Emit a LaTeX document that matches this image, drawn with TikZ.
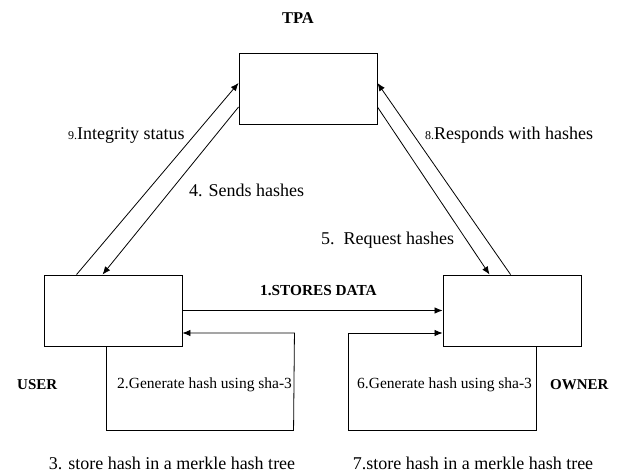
\documentclass[tikz,border=0pt]{standalone}
\usepackage{fontspec}
\setmainfont{Liberation Serif}
\usetikzlibrary{arrows.meta,calc}
\tikzset{
  box/.style={draw, line width=0.9pt, minimum width=138pt, minimum height=71pt, inner sep=0pt},
  conn/.style={line width=0.8pt},
  arr/.style={conn, -{Latex[length=8pt,width=6.5pt]}},
  lbl/.style={font=\fontsize{18}{20}\selectfont, inner sep=0pt, anchor=west},
  smlbl/.style={font=\fontsize{15.5}{18}\selectfont, inner sep=0pt, anchor=west},
  hdr/.style={font=\fontsize{15}{18}\selectfont\bfseries, inner sep=0pt, anchor=west},
}
\begin{document}
\begin{tikzpicture}[x=1pt, y=-1pt]
\useasboundingbox (0,0) rectangle (618,473);
% boxes
\node[box] (tpa) at (308,89) {};
\node[box] (user) at (113,310.5) {};
\node[box] (owner) at (512,310.5) {};
% titles
\node[hdr, anchor=center, font=\fontsize{16.5}{18}\selectfont\bfseries] (tpalbl) at (298,18) {TPA};
\node[hdr] (userlbl) at (17,385) {USER};
\node[hdr] (ownerlbl) at (550,385) {OWNER};
% coordinates on box sides
\coordinate (u9) at ($(user.north west)+(33,0)$);
\coordinate (u4) at ($(user.north west)+(59,0)$);
\coordinate (t9) at ($(tpa.west)+(0,-6)$);
\coordinate (t4) at ($(tpa.west)+(0,18)$);
\coordinate (t8) at ($(tpa.east)+(0,-6)$);
\coordinate (t5) at ($(tpa.east)+(0,18)$);
\coordinate (o5) at ($(owner.north west)+(47,0)$);
\coordinate (o8) at ($(owner.north west)+(68,0)$);
% triangle connectors
\draw[arr] (u9) -- (t9);
\draw[arr] (t4) -- (u4);
\draw[arr] (t5) -- (o5);
\draw[arr] (o8) -- (t8);
\draw[arr] (user.east) -- (owner.west);
% self loops
\coordinate (ul0) at ($(user.south west)+(63,0)$);
\coordinate (ul1) at ($(ul0)+(0,84)$);
\coordinate (ul2) at ($(ul1)+(187,0)$);
\coordinate (ul3) at ($(user.east)+(112,22.5)$);
\coordinate (ul4) at ($(user.east)+(0,22.5)$);
\draw[arr] (ul0) -- (ul1) -- (ul2) -- (ul3) -- (ul4);
\coordinate (ol0) at ($(owner.south west)+(94,0)$);
\coordinate (ol1) at ($(ol0)+(0,84)$);
\coordinate (ol2) at ($(ol1)+(-188,0)$);
\coordinate (ol3) at ($(owner.west)+(-94,22.5)$);
\coordinate (ol4) at ($(owner.west)+(0,22.5)$);
\draw[arr] (ol0) -- (ol1) -- (ol2) -- (ol3) -- (ol4);
% labels
\node[lbl] (l9) at (68,135) {{\fontsize{12}{14}\selectfont 9.}Integrity status};
\node[lbl] (l4) at (189,190) {4. Sends hashes};
\node[lbl] (l8) at (425,135) {{\fontsize{12}{14}\selectfont 8.}Responds with hashes};
\node[lbl] (l5) at (321,240) {5.\ \ Request hashes};
\node[hdr, font=\fontsize{15.3}{17}\selectfont\bfseries] (l1) at (260,291) {1.STORES DATA};
\node[smlbl] (l2) at (117,385) {2.Generate hash using sha-3};
\node[smlbl] (l6) at (357,385) {6.Generate hash using sha-3};
\node[lbl, anchor=center] (l3) at (172,463) {3. store hash in a merkle hash tree};
\node[lbl, anchor=center] (l7) at (473,463) {7.store hash in a merkle hash tree};
\end{tikzpicture}
\end{document}
